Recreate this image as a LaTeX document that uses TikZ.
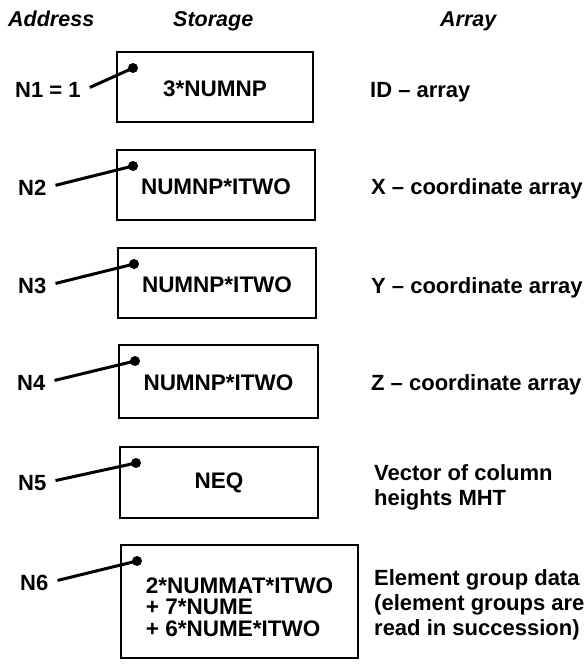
\documentclass[tikz,border=0pt]{standalone}
\usepackage{fontspec}
\setmainfont{Liberation Sans}
\usetikzlibrary{calc}
\begin{document}
\begin{tikzpicture}[x=1pt,y=-1pt,
  hdr/.style={font=\fontsize{21.5}{24}\selectfont\bfseries\itshape, inner sep=0, anchor=base west},
  addr/.style={font=\fontsize{22}{25}\selectfont\bfseries, inner sep=0, anchor=base west},
  arr/.style={font=\fontsize{22}{25}\selectfont\bfseries, inner sep=0, anchor=base west, align=left},
  storebox/.style={draw, line width=2.4pt, inner sep=0, outer sep=0, font=\fontsize{22.5}{21.7}\selectfont\bfseries, align=left},
  link/.style={line width=3pt},
  dotmark/.style={circle, fill, inner sep=0, minimum size=10pt}
]
\useasboundingbox (0,0) rectangle (587,665);
% headers
\node[hdr] (hA) at (8,26) {Address};
\node[hdr] (hS) at (173,26) {Storage};
\node[hdr] (hR) at (440,26) {Array};
% boxes
\node[storebox, minimum width=196pt, minimum height=70pt] (b1) at (215,87) {\rule{0pt}{20pt}3*NUMNP};
\node[storebox, minimum width=198pt, minimum height=70pt] (b2) at (216,185) {\rule{0pt}{20pt}NUMNP*ITWO};
\node[storebox, minimum width=198pt, minimum height=70pt] (b3) at (217,283) {\rule{0pt}{20pt}NUMNP*ITWO};
\node[storebox, minimum width=199pt, minimum height=73pt] (b4) at (218.5,381.5) {\rule{0pt}{18pt}NUMNP*ITWO};
\node[storebox, minimum width=198pt, minimum height=71pt] (b5) at (219,482.5) {NEQ};
\node[storebox, minimum width=237pt, minimum height=113pt] (b6) at (239.5,601.5) {\rule{0pt}{27pt}2*NUMMAT*ITWO\\+ 7*NUME\\+ 6*NUME*ITWO};
% addresses
\node[addr] (n1) at (15,97) {N1 = 1};
\node[addr] (n2) at (18,195) {N2};
\node[addr] (n3) at (18,293) {N3};
\node[addr] (n4) at (17,390) {N4};
\node[addr] (n5) at (18,490) {N5};
\node[addr] (n6) at (20,590) {N6};
% arrays
\node[arr] (a1) at (370,97) {ID -- array};
\node[arr] (a2) at (371,194) {X -- coordinate array};
\node[arr] (a3) at (371,293) {Y -- coordinate array};
\node[arr] (a4) at (371,390) {Z -- coordinate array};
\node[arr] (a5) at (374,505) {Vector of column\\heights MHT};
\node[arr] (a6) at (374,635) {Element group data\\(element groups are\\read in succession)};
% dots
\foreach \i in {1,...,6}{
  \node[dotmark] (d\i) at ($(b\i.north west)+(16,16)$) {};
  \draw[link] ([xshift=9pt,yshift=2pt]n\i.east) -- (d\i.center);
}
\end{tikzpicture}
\end{document}
